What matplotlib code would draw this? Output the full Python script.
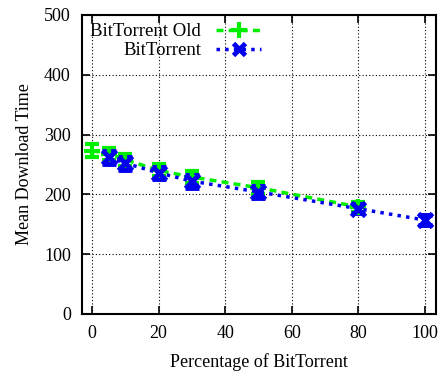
import matplotlib
matplotlib.use('Agg')
import matplotlib.pyplot as plt
from matplotlib.lines import Line2D

plt.rcParams['font.family'] = ['Liberation Serif', 'DejaVu Serif']
plt.rcParams['font.size'] = 13

# data
x_old = [0, 5, 10, 20, 30, 50, 80]
y_old = [273, 268, 258, 240, 229, 211, 179]
err_old = [11, 10, 10, 10, 10, 10, 9]

x_new = [5, 10, 20, 30, 50, 80, 100]
y_new = [262, 252, 236, 222, 204, 176, 157]
err_new = [11, 11, 10, 11, 10, 8, 8]

green = '#00ee00'
blue = '#0000ee'
dash_old = (0, (2, 1.5))
dash_new = (0, (1, 1.5))

fig = plt.figure(figsize=(4.43, 3.72), dpi=100)
ax = fig.add_axes([0.185, 0.156, 0.799, 0.804])

c1 = ax.errorbar(x_old, y_old, yerr=err_old, color=green, linestyle=dash_old, lw=2.5,
                 marker='+', ms=12, mew=3, capsize=5, elinewidth=2.5, capthick=2.5)
c2 = ax.errorbar(x_new, y_new, yerr=err_new, color=blue, linestyle=dash_new, lw=2.5,
                 marker='x', ms=10, mew=3.5, capsize=5, elinewidth=2.5, capthick=2.5)
for c, ls in ((c1, dash_old), (c2, dash_new)):
    for b in c[2]:
        b.set_linestyle(ls)

ax.set_xlim(-3, 103.3)
ax.set_ylim(0, 500)
ax.set_xticks([0, 20, 40, 60, 80, 100])
ax.set_yticks([0, 100, 200, 300, 400, 500])
ax.grid(True, color='black', linestyle=(0, (1, 2)), lw=0.8)
ax.tick_params(direction='in', top=True, right=True, length=6, width=1.2, pad=8)
for s in ax.spines.values():
    s.set_linewidth(1.5)

ax.set_xlabel('Percentage of BitTorrent', labelpad=8)
ax.set_ylabel('Mean Download Time', labelpad=8)

handles = [Line2D([], [], color=green, linestyle=dash_old, lw=2.5, marker='+', ms=11, mew=3),
           Line2D([], [], color=blue, linestyle=dash_new, lw=2.5, marker='x', ms=9, mew=3.5)]
leg = ax.legend(handles, ['BitTorrent Old', 'BitTorrent'], loc='upper left', frameon=False,
                markerfirst=False, handlelength=2.4, borderaxespad=0.05, labelspacing=0.1,
                handletextpad=0.8, fontsize=13.5)
leg._legend_box.align = 'right'
for t in leg.get_texts():
    t.set_ha('right')

fig.savefig('out.png', dpi=100)
